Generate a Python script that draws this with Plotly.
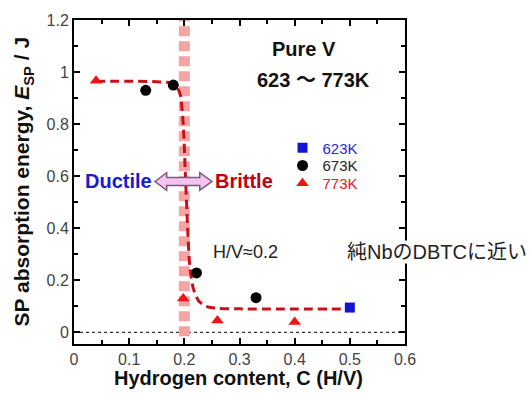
import plotly.graph_objects as go

# ---- data ----
x_623 = [0.50]
y_623 = [0.095]
x_673 = [0.13, 0.18, 0.222, 0.33]
y_673 = [0.93, 0.95, 0.228, 0.133]
x_773 = [0.04, 0.198, 0.26, 0.40]
y_773 = [0.967, 0.13, 0.045, 0.04]
# fitted guide curve
x_fit = [0.04, 0.15, 0.175, 0.186, 0.193, 0.198, 0.202, 0.206, 0.210, 0.216, 0.226, 0.24, 0.26, 0.30, 0.50]
y_fit = [0.965, 0.963, 0.958, 0.945, 0.91, 0.80, 0.60, 0.40, 0.25, 0.17, 0.12, 0.10, 0.092, 0.09, 0.09]
# DBTC marker (vertical band)
x_band = [0.2, 0.2]
y_band = [-0.015, 1.2]

x_ticks = [0, 0.1, 0.2, 0.3, 0.4, 0.5, 0.6]
y_ticks = [0, 0.2, 0.4, 0.6, 0.8, 1.0, 1.2]

FONT = "Liberation Sans, Arial, Noto Sans CJK JP, sans-serif"

fig = go.Figure()

fig.add_trace(go.Scatter(x=x_band, y=y_band, mode="lines", showlegend=False,
                         line=dict(color="#f5a3a3", width=11, dash="10px,5px"),
                         hoverinfo="skip"))
fig.add_trace(go.Scatter(x=x_fit, y=y_fit, mode="lines", showlegend=False,
                         line=dict(color="#c8101a", width=3, dash="9px,5px", shape="spline", smoothing=0.6),
                         hoverinfo="skip"))
fig.add_trace(go.Scatter(x=x_623, y=y_623, mode="markers", legend="legend",
                         name="<span style='color:#2a2ad0'>623K</span>",
                         marker=dict(symbol="square", size=10, color="#1414d0")))
fig.add_trace(go.Scatter(x=x_673, y=y_673, mode="markers", legend="legend2",
                         name="<span style='color:#222222'>673K</span>",
                         marker=dict(symbol="circle", size=11, color="#000000")))
fig.add_trace(go.Scatter(x=x_773, y=y_773, mode="markers", legend="legend3",
                         name="<span style='color:#e82020'>773K</span>",
                         marker=dict(symbol="triangle-up", size=11, color="#ee1515")))

# zero reference line
fig.add_shape(type="line", xref="paper", yref="y", x0=0, x1=1, y0=0, y1=0,
              line=dict(color="black", width=1, dash="3px,3px"), layer="below")

# double-headed arrow
arrow_path = ("M 0.1467,0.5795 L 0.168,0.6135 L 0.168,0.5945 L 0.228,0.5945 "
              "L 0.228,0.6135 L 0.25,0.5795 L 0.228,0.5455 L 0.228,0.5645 "
              "L 0.168,0.5645 L 0.168,0.5455 Z")
fig.add_shape(type="path", path=arrow_path, xref="x", yref="y",
              fillcolor="#f4c4f0", line=dict(color="#7a5a7a", width=1.5), layer="above")

ann = [
    dict(text="<b>Pure V</b>", x=0.4167, y=1.087, font=dict(size=20, color="#111")),
    dict(text="<b>623 ～ 773K</b>", x=0.4348, y=0.97, font=dict(size=20, color="#111")),
    dict(text="<b>Ductile</b>", x=0.0815, y=0.5795, font=dict(size=20, color="#1a1ad0")),
    dict(text="<b>Brittle</b>", x=0.3078, y=0.5795, font=dict(size=20, color="#c00010")),
    dict(text="H/V≈0.2", x=0.31, y=0.31, font=dict(size=18, color="#222")),
]
for a in ann:
    fig.add_annotation(xref="x", yref="y", showarrow=False, xanchor="center",
                       yanchor="middle", x=a["x"], y=a["y"], text=a["text"],
                       font=dict(family=FONT, **a["font"]))

fig.add_annotation(xref="paper", yref="paper", x=1.097, y=(344 - 251) / 329,
                   text="純NbのDBTCに近い", showarrow=False, xanchor="center", yanchor="middle",
                   bgcolor="white", borderpad=0,
                   font=dict(family=FONT, size=20, color="#222"))
fig.add_annotation(xref="paper", yref="paper", x=0.496, y=(344 - 379) / 329,
                   text="<b>Hydrogen content, C (H/V)</b>", showarrow=False,
                   xanchor="center", yanchor="middle",
                   font=dict(family=FONT, size=20, color="#111"))
fig.add_annotation(xref="paper", yref="paper", x=(23 - 74) / 331, y=(344 - 179) / 329,
                   text="<b>SP absorption energy, <i>E</i><sub>SP</sub> / J</b>",
                   showarrow=False, textangle=-90, xanchor="center", yanchor="middle",
                   font=dict(family=FONT, size=21, color="#111"))

axis_common = dict(showline=True, linecolor="black", linewidth=2, mirror="ticks",
                   ticks="inside", ticklen=6, tickwidth=2, tickcolor="black",
                   showgrid=False, zeroline=False,
                   tickfont=dict(family=FONT, size=16, color="#444"))

fig.update_xaxes(range=[0, 0.6], tickvals=x_ticks, ticktext=[f"{v:g}" for v in x_ticks],
                 minor=dict(dtick=0.05, ticks="inside", ticklen=4, tickwidth=2, tickcolor="black"),
                 **axis_common)
fig.update_yaxes(range=[-0.045, 1.2], tickvals=y_ticks, ticktext=[f"{v:g}" for v in y_ticks],
                 minor=dict(dtick=0.1, ticks="inside", ticklen=4, tickwidth=2, tickcolor="black"),
                 **axis_common)

leg = dict(x=0.63, xanchor="left", yanchor="middle", bgcolor="rgba(0,0,0,0)",
           font=dict(family=FONT, size=15), itemwidth=30)
fig.update_layout(
    width=532, height=395,
    margin=dict(l=74, r=127, t=15, b=51),
    paper_bgcolor="white", plot_bgcolor="white",
    font=dict(family=FONT),
    showlegend=True,
    legend=dict(y=(344 - 145) / 329, **leg),
    legend2=dict(y=(344 - 163) / 329, **leg),
    legend3=dict(y=(344 - 181) / 329, **leg),
)

fig.write_html("out.html")
